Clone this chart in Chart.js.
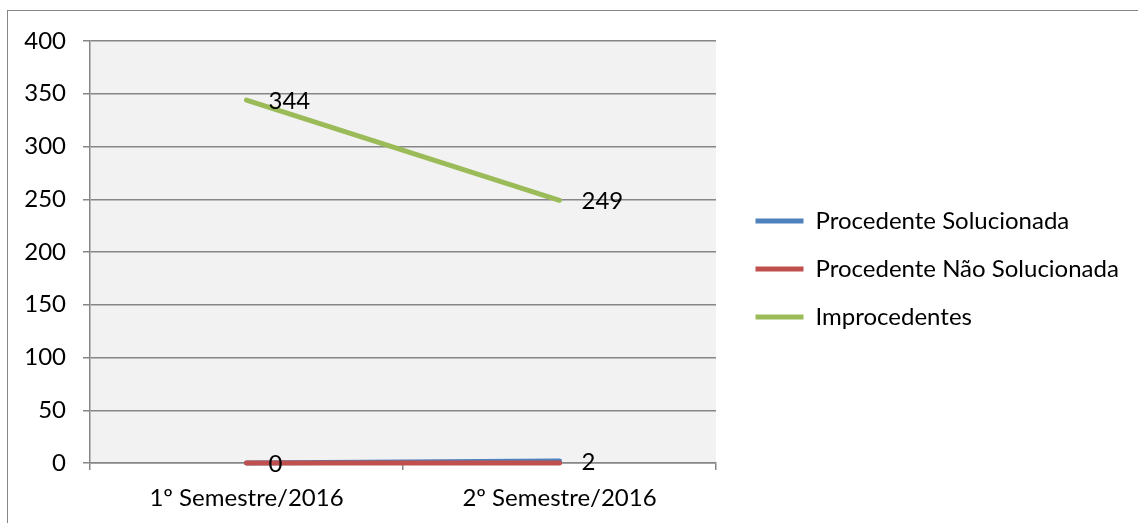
<!DOCTYPE html>
<html>
<head>
<meta charset="utf-8">
<script src="https://cdn.jsdelivr.net/npm/chart.js@4.4.1/dist/chart.umd.min.js"></script>
<style>
  html, body { margin: 0; padding: 0; background: #ffffff; overflow: hidden; }
  #wrap { position: relative; width: 1138px; height: 523px; }
  #frame { position: absolute; left: 7px; top: 10px; width: 1200px; height: 600px; border: 1px solid #878787; box-sizing: border-box; }
  canvas { position: absolute; left: 0; top: 0; }
</style>
</head>
<body>
<div id="wrap">
  <div id="frame"></div>
  <canvas id="c" width="1138" height="523"></canvas>
</div>
<script>
const categories = ['1º Semestre/2016', '2º Semestre/2016'];
const seriesNames = ['Procedente Solucionada', 'Procedente Não Solucionada', 'Improcedentes'];
const procedenteSolucionada = [0, 2];
const procedenteNaoSolucionada = [0, 0];
const improcedentes = [344, 249];
const yTicks = [0, 50, 100, 150, 200, 250, 300, 350, 400];

const FONT = 'Lato, "Open Sans", sans-serif';
const FSIZE = 24;

const plotBg = {
  id: 'plotBg',
  beforeDraw(chart) {
    const a = chart.chartArea, ctx = chart.ctx;
    ctx.save();
    ctx.fillStyle = '#f2f2f2';
    ctx.fillRect(a.left, a.top, a.right - a.left, a.bottom - a.top);
    ctx.restore();
  }
};

const legendShift = {
  id: 'legendShift',
  afterLayout(chart) {
    const lg = chart.legend;
    const dx = 15.5, dy = -13;
    lg.left += dx;
    lg.top += dy; lg.bottom += dy;
    lg.right = chart.width;
    lg.width = lg.right - lg.left;
  }
};

const dataLabels = {
  id: 'dataLabels',
  afterDatasetsDraw(chart) {
    const ctx = chart.ctx;
    ctx.save();
    ctx.font = FSIZE + 'px ' + FONT;
    ctx.fillStyle = '#000000';
    ctx.textAlign = 'left';
    ctx.textBaseline = 'middle';
    chart.data.datasets.forEach((ds, di) => {
      if (!ds.showLabels) return;
      const meta = chart.getDatasetMeta(di);
      meta.data.forEach((pt, i) => {
        ctx.fillText(String(ds.data[i]), pt.x + 22, pt.y + 1);
      });
    });
    ctx.restore();
  }
};

new Chart(document.getElementById('c'), {
  type: 'line',
  data: {
    labels: categories,
    datasets: [
      { label: seriesNames[0], data: procedenteSolucionada, borderColor: '#4f81bd', backgroundColor: '#4f81bd', order: 3, showLabels: true },
      { label: seriesNames[1], data: procedenteNaoSolucionada, borderColor: '#c0504d', backgroundColor: '#c0504d', order: 2, showLabels: false },
      { label: seriesNames[2], data: improcedentes, borderColor: '#9bbb59', backgroundColor: '#9bbb59', order: 1, showLabels: true }
    ].map(d => Object.assign({
      borderWidth: 5, borderCapStyle: 'round', borderJoinStyle: 'round',
      pointRadius: 0, pointHoverRadius: 0, tension: 0, fill: false, clip: false
    }, d))
  },
  options: {
    responsive: false,
    animation: false,
    devicePixelRatio: 1,
    events: [],
    layout: { padding: { top: 41, bottom: 0, left: 0, right: 183.33 } },
    scales: {
      x: {
        offset: true,
        grid: { offset: true, drawOnChartArea: false, drawTicks: true, tickLength: 7, color: '#868686', lineWidth: 1.5 },
        border: { display: true, color: '#868686', width: 1.5 },
        ticks: { font: { family: FONT, size: FSIZE }, color: '#000000', padding: 14, maxRotation: 0 },
        afterFit(s) { s.height = 60; }
      },
      y: {
        min: 0, max: 400,
        afterBuildTicks(s) { s.ticks = yTicks.map(v => ({ value: v })); },
        grid: { color: '#868686', lineWidth: 1.5, tickLength: 7, drawTicks: true },
        border: { display: true, color: '#868686', width: 1.5 },
        ticks: { font: { family: FONT, size: FSIZE }, color: '#000000', padding: 17 },
        afterFit(s) { s.width = 90; }
      }
    },
    plugins: {
      legend: {
        position: 'right',
        align: 'center',
        labels: {
          usePointStyle: true,
          pointStyle: 'line',
          pointStyleWidth: 48,
          padding: 24,
          color: '#000000',
          font: { family: FONT, size: FSIZE },
          sort: (a, b) => a.datasetIndex - b.datasetIndex
        }
      },
      tooltip: { enabled: false }
    }
  },
  plugins: [plotBg, legendShift, dataLabels]
});
</script>
</body>
</html>
